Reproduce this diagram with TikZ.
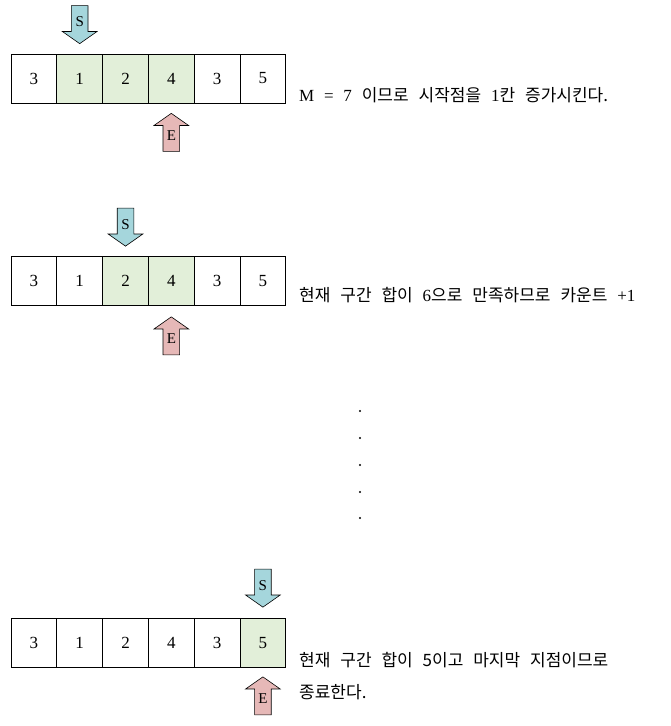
\documentclass[tikz,border=0pt]{standalone}
\usepackage{fontspec}
\setmainfont[WordSpace=2.3]{Liberation Serif}
\newfontfamily\kr[WordSpace=2.6]{Noto Sans CJK KR}
\usetikzlibrary{chains,positioning,shapes.arrows}
\definecolor{hitgreen}{HTML}{E2EFD9}
\definecolor{sblue}{HTML}{A5D6DC}
\definecolor{ered}{HTML}{E6B8B7}
\tikzstyle{cell}=[rectangle,draw,line width=0.9pt,outer sep=0pt,minimum width=45.8pt,minimum height=49pt,inner sep=0pt,font=\fontsize{17}{17}\selectfont,on chain]
\tikzstyle{hit}=[cell,fill=hitgreen]
\tikzstyle{ptr}=[single arrow,draw,line width=0.6pt,minimum height=38pt,text width=9pt,align=center,inner sep=3.5pt,single arrow head extend=9pt,single arrow tip angle=110,font=\fontsize{15}{15}\selectfont]
\tikzstyle{sptr}=[ptr,fill=sblue,shape border rotate=270]
\tikzstyle{eptr}=[ptr,fill=ered,shape border rotate=90]
\tikzstyle{note}=[anchor=west,inner sep=0pt,font=\kr\fontsize{17}{17}\selectfont]
\tikzstyle{dot}=[circle,fill,inner sep=0.8pt]

\begin{document}
\begin{tikzpicture}[x=1pt,y=-1pt]
\useasboundingbox (0,0) rectangle (671,726);
% first step
\begin{scope}[start chain=row1 going right,node distance=0pt]
\node[cell] at (33.9,78.5) {3};
\node[hit] {1};
\node[hit] {2};
\node[hit] {4};
\node[cell] {3};
\node[cell] {5};
\end{scope}
\node[sptr,above=10pt of row1-2,anchor=tip] (s1) {S};
\node[eptr,below=10pt of row1-4,anchor=tip] (e1) {E};
\node[note] (t1) at (299,95) {{\rmfamily M = 7} 이므로 시작점을 {\rmfamily 1}칸 증가시킨다.};
% second step
\begin{scope}[start chain=row2 going right,node distance=0pt]
\node[cell] at (33.9,281) {3};
\node[cell] {1};
\node[hit] {2};
\node[hit] {4};
\node[cell] {3};
\node[cell] {5};
\end{scope}
\node[sptr,above=10pt of row2-3,anchor=tip] (s2) {S};
\node[eptr,below=11pt of row2-4,anchor=tip] (e2) {E};
\node[note] (t2) at (299,295) {현재 구간 합이 {\rmfamily 6}으로 만족하므로 카운트 {\rmfamily +1}};
% skipped steps
\foreach \y [count=\i] in {411,438,465,492,518}
  \node[dot] (dot\i) at (360,\y) {};
% last step
\begin{scope}[start chain=row3 going right,node distance=0pt]
\node[cell] at (33.9,643) {3};
\node[cell] {1};
\node[cell] {2};
\node[cell] {4};
\node[cell] {3};
\node[hit] {5};
\end{scope}
\node[sptr,above=11pt of row3-6,anchor=tip] (s3) {S};
\node[eptr,below=9pt of row3-6,anchor=tip] (e3) {E};
\node[note] (t3) at (299,660) {현재 구간 합이 5이고 마지막 지점이므로};
\node[note] (t4) at (299,692) {종료한다.};
\end{tikzpicture}
\end{document}
